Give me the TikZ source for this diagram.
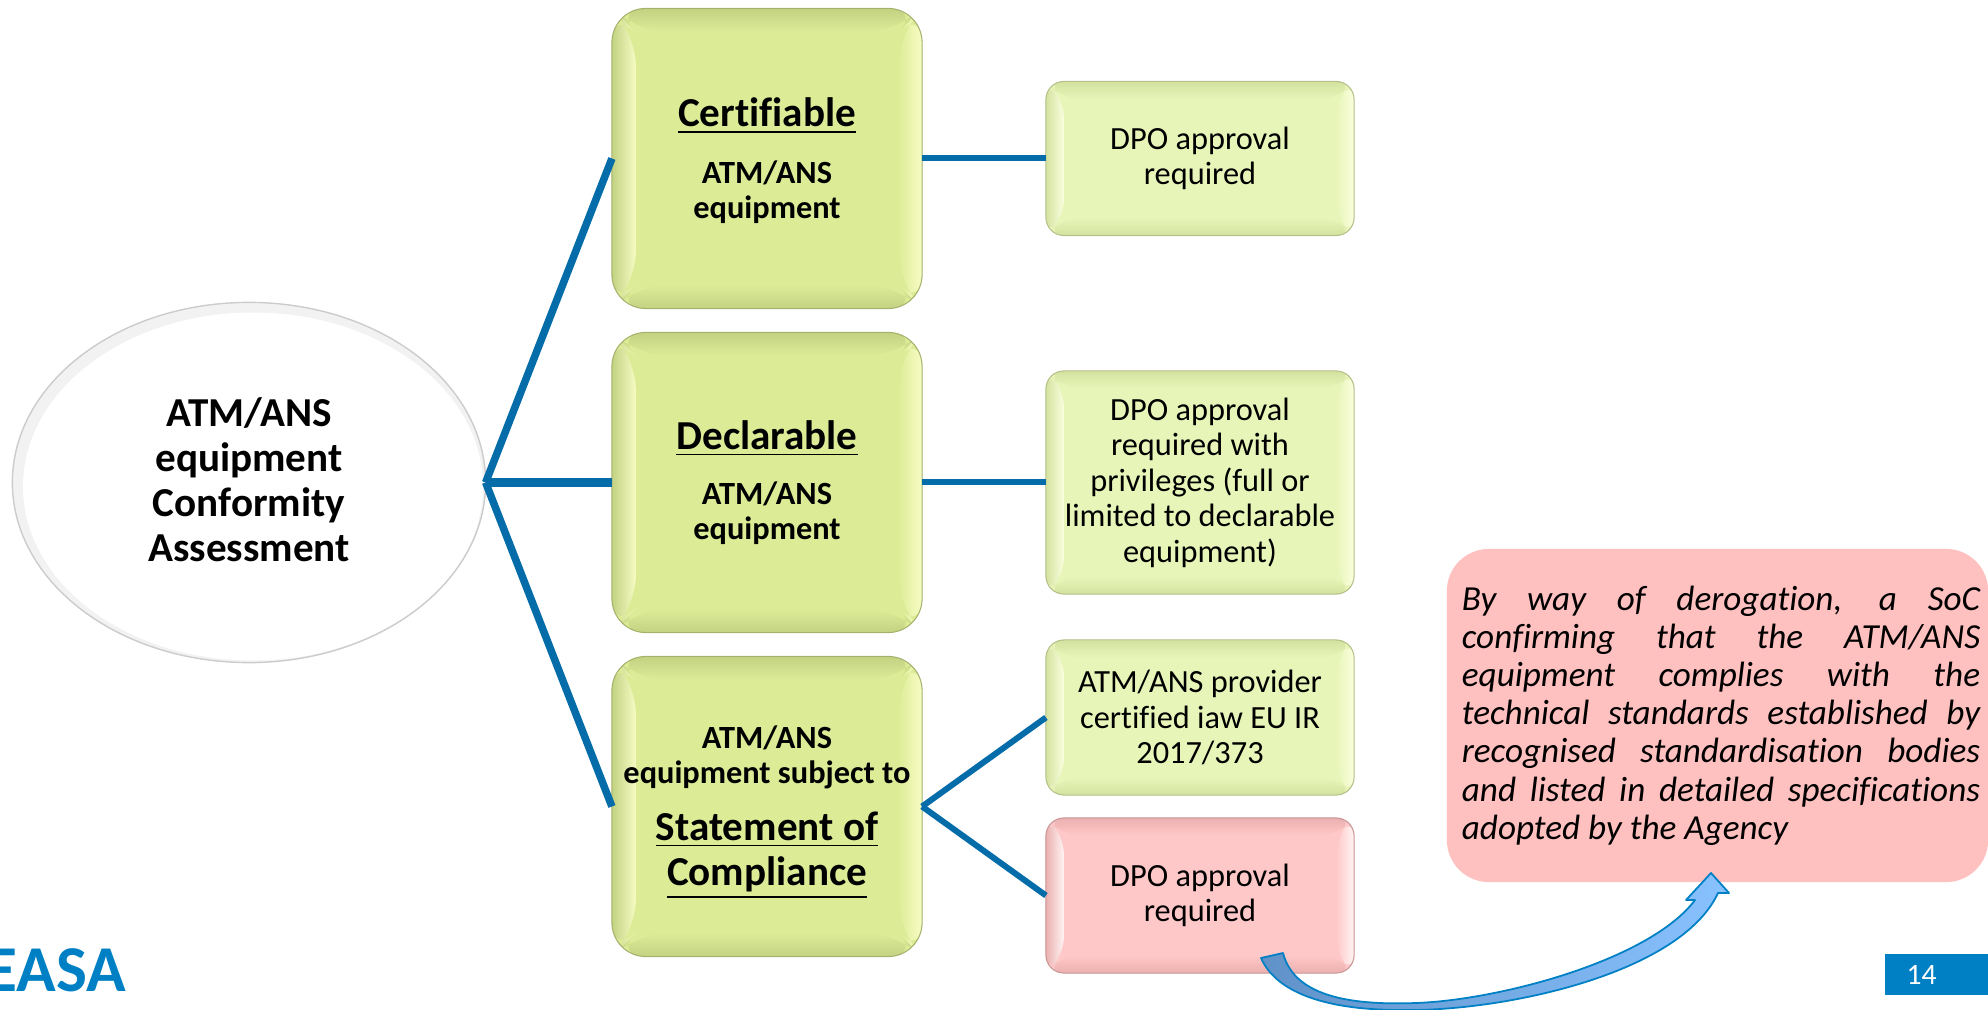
\documentclass[tikz,border=0pt]{standalone}
\usepackage{fontspec}
\setmainfont{Carlito}[Ligatures=CommonOff]
\usetikzlibrary{shapes.geometric,calc}
\definecolor{linkblue}{RGB}{5,108,170}
\definecolor{easablue}{RGB}{0,128,196}
\definecolor{bigface}{RGB}{220,236,150}
\definecolor{bigrim}{RGB}{194,210,130}
\definecolor{biglight}{RGB}{248,252,196}
\definecolor{smallface}{RGB}{232,245,185}
\definecolor{smallrim}{RGB}{212,226,160}
\definecolor{smalllight}{RGB}{250,254,222}
\definecolor{redface}{RGB}{255,200,200}
\definecolor{redrim}{RGB}{236,176,176}
\definecolor{redlight}{RGB}{255,244,244}
\definecolor{notered}{RGB}{255,192,192}
\definecolor{arrowdark}{RGB}{96,146,200}
\definecolor{arrowlight}{RGB}{136,194,255}
\newcommand{\bodyfont}{\fontsize{9.2pt}{10.1pt}\selectfont}
\newcommand{\headfont}{\fontsize{11.7pt}{12.8pt}\selectfont\bfseries}
\newcommand{\headline}[1]{{\headfont\underline{#1}}}
\tikzset{
  bevelbox/.style n args={4}{draw=#2!85!black,line width=.3pt,fill=#1,inner sep=0pt,outer sep=0pt,align=center,
    path picture={
      \coordinate (nw) at (path picture bounding box.north west);
      \coordinate (ne) at (path picture bounding box.north east);
      \coordinate (sw) at (path picture bounding box.south west);
      \coordinate (se) at (path picture bounding box.south east);
      \shade[top color=#2,bottom color=#1] (nw) -- (ne) -- ($(ne)+(-#4,#4)$) -- ($(nw)+(#4,#4)$) -- cycle;
      \shade[top color=#1,bottom color=#2] (sw) -- (se) -- ($(se)+(-#4,-#4)$) -- ($(sw)+(#4,-#4)$) -- cycle;
      \shade[left color=#2,right color=#3] (nw) -- (sw) -- ($(sw)+(#4,-#4)$) -- ($(nw)+(#4,#4)$) -- cycle;
      \shade[left color=#1,right color=#3] (ne) -- (se) -- ($(se)+(-#4,-#4)$) -- ($(ne)+(-#4,#4)$) -- cycle;
    }},
  classbox/.style={bevelbox={bigface}{bigrim}{biglight}{24},minimum width=3.1cm,minimum height=3cm,
    rounded corners=.34cm,font=\bodyfont\bfseries},
  dpobox/.style={bevelbox={smallface}{smallrim}{smalllight}{18},minimum width=3.08cm,rounded corners=.18cm,font=\bodyfont},
  dpored/.style={bevelbox={redface}{redrim}{redlight}{18},minimum width=3.08cm,rounded corners=.18cm,font=\bodyfont},
  link/.style={draw=linkblue,line width=.06cm},
}

\begin{document}
\begin{tikzpicture}[x=.01cm,y=-.01cm]
\useasboundingbox (0,0) rectangle (1988,1010);

\node (conformity) at (249,482.5) [ellipse,draw=black!20,line width=.4pt,fill=black!5,inner sep=0pt,outer sep=0pt,
    minimum width=4.73cm,minimum height=3.6cm,align=center,font=\headfont,
    path picture={\fill[white] ($(path picture bounding box.center)+(4,4)$) ellipse [x radius=230,y radius=174];}]
    {ATM/ANS\\equipment\\Conformity\\Assessment\rule[-1.4pt]{0pt}{0pt}};

\node (certifiable) at (767,158.5) [classbox] {\rule{0pt}{9.6pt}\headline{Certifiable}\\[5.9pt]ATM/ANS\\equipment};
\node (declarable) at (767,482.5) [classbox] {\headline{Declarable}\\[5.5pt]ATM/ANS\\equipment};
\node (soc) at (767,806.5) [classbox] {\rule{0pt}{9.7pt}ATM/ANS\\equipment subject to\\[6.1pt]\headline{Statement of}\\[1.5pt]\headline{Compliance}};

\node (dpocert) at (1200,158.5) [dpobox,minimum height=1.54cm] {DPO approval\\required};
\node (dpodecl) at (1200,482.5) [dpobox,minimum height=2.23cm] {DPO approval\\required with\\privileges (full or\\limited to declarable\\equipment)};
\node (provider) at (1200,717.5) [dpobox,minimum height=1.55cm] {ATM/ANS provider\\certified iaw EU IR\\2017/373};
\node (dposoc) at (1200,895.5) [dpored,minimum height=1.55cm] {DPO approval\\required};

\node (derogation) at (1717.5,715.5) [fill=notered,rounded corners=.42cm,minimum width=5.41cm,minimum height=3.33cm,
    inner sep=0pt,font=\fontsize{10pt}{10.85pt}\selectfont\itshape]
    {\hspace*{.07cm}\parbox{5.18cm}{By way of derogation, a SoC\linebreak confirming that the ATM/ANS\linebreak equipment complies with the\linebreak technical standards established by\linebreak recognised standardisation bodies\linebreak and listed in detailed specifications\linebreak adopted by the Agency}};

\begin{scope}[every edge/.style={link}]
    \path (conformity.east) edge [line width=.075cm] (certifiable.west);
    \path (conformity.east) edge [line width=.09cm] (declarable.west);
    \path (conformity.east) edge [line width=.075cm] (soc.west);

    \path (certifiable.east) edge (dpocert.west);
    \path (declarable.east) edge (dpodecl.west);
    \path (soc.east) edge (provider.west);
    \path (soc.east) edge (dposoc.west);
\end{scope}

%curved arrow to the note
\coordinate (arrowtail) at (1283,953);
\coordinate (arrowtip) at (1711,873);
\shadedraw [left color=arrowdark,right color=arrowlight,draw=easablue,line width=.5pt,line join=round]
    (arrowtail) .. controls (1295,1000) and (1360,1005) .. (1416,1003)
    .. controls (1500,1000) and (1650,960) .. (1695,900)
    -- (1686,900) -- (arrowtip) -- (1729,893) -- (1718,893)
    .. controls (1680,975) and (1500,1012) .. (1401,1010)
    .. controls (1320,1010) and (1275,990) .. (1261,958) -- cycle;

\node (pagenum) at (1936.5,974.5) [fill=easablue,text=white,minimum width=1.03cm,minimum height=.41cm,inner sep=0pt,
    font=\fontsize{8.4pt}{9pt}\selectfont] {\hspace*{-.3cm}14};
\node (easa) at (127,991) [anchor=base east,inner sep=0pt,text=easablue,font=\fontsize{18.6pt}{20pt}\selectfont\bfseries] {EASA};
\end{tikzpicture}
\end{document}
